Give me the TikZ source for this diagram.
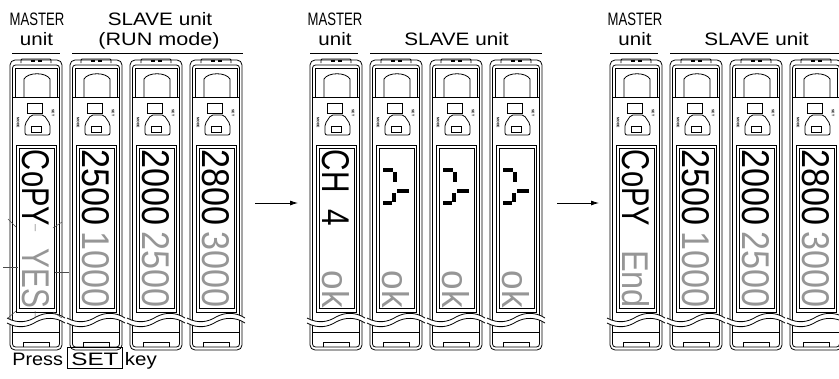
\documentclass[tikz,border=0pt]{standalone}
\usepackage{graphicx}
\usepackage{fontspec}
\setmainfont{Liberation Sans}
\newfontfamily\segfont{Liberation Sans}
\usepackage{xcolor}
\usetikzlibrary{positioning,arrows.meta}
\definecolor{svgray}{RGB}{150,150,150}
\newcommand\segtxt[1]{\resizebox{76pt}{27pt}{\segfont #1}}

\begin{document}
\begin{tikzpicture}[x=1pt,y=-1pt,
      line width=0.8pt,
      lbl/.style={font=\fontsize{18}{20}\selectfont, inner sep=0pt, anchor=base},
      pv/.style={rotate=-90, inner sep=0pt},
      sv/.style={rotate=-90, inner sep=0pt, text=svgray},
      tinylbl/.style={rotate=-90, inner sep=0pt, font=\fontsize{3.5}{4}\selectfont\bfseries},
      blinkmark/.style={line width=0.5pt, black!70},
      busyseg/.style={line width=3.5pt, line cap=butt},
      ampunit/.pic={
        \draw[rounded corners=5pt] (0,60) rectangle (52,350);
        \draw[rounded corners=3pt] (2.5,65) rectangle (49.5,347);
        \draw[rounded corners=1pt] (11,63) -- (11,59) -- (41,59) -- (41,63);
        \draw[line width=1.2pt] (21,61) -- (25,61) (28,61) -- (32,61);
        \draw (5,97) -- (5,68) -- (47,68) -- (47,97);
        \draw (14,97) -- (14,79) .. controls (18,72) and (36,72) .. (40,79) -- (40,97);
        \draw (2.5,97) -- (49.5,97);
        \draw (17,103) rectangle (32,113);
        \draw[rounded corners=2pt] (15,135) -- (15,124) -- (21,115) -- (34,115) -- (40,124) -- (40,135) -- cycle;
        \draw (21.5,126) rectangle (31.5,132);
        \node[tinylbl] (mode) at (8,123) {MODE};
        \node[tinylbl] (set) at (43,113) {SET};
        \draw (6.5,145) rectangle (46.5,312);
        \draw (9,148) rectangle (44,308);
        \fill[white] (-3,318) .. controls (8,324) and (18,322) .. (26,317) .. controls (35,312) and (46,312) .. (55,318)
          -- (55,323) .. controls (46,317) and (35,317) .. (26,322) .. controls (18,327) and (8,329) .. (-3,323) -- cycle;
        \draw (-3,318) .. controls (8,324) and (18,322) .. (26,317) .. controls (35,312) and (46,312) .. (55,318);
        \draw (-3,323) .. controls (8,329) and (18,327) .. (26,322) .. controls (35,317) and (46,317) .. (55,323);
        \draw (2.5,332) -- (49.5,332);
        \draw (13,347) -- (13,342.5) -- (39,342.5) -- (39,347);
      }]
    \useasboundingbox (0,0) rectangle (839,378);
    \clip (0,0) rectangle (839,378);
    \foreach \x in {10,70,130,190,310,370,430,490,610,670,730,790}
      \pic (u\x) at (\x,0) {ampunit};

    \node[lbl, xscale=.73] (m1lbl) at (37,25) {MASTER};
    \node[lbl, xscale=1.14] (m1unit) at (36.5,45) {unit};
    \node[lbl, xscale=1.15] (s1lbl) at (160,25) {SLAVE unit};
    \node[lbl, xscale=1.2] (s1mode) at (159,45) {(RUN mode)};
    \node[lbl, xscale=.73] (m2lbl) at (335,25) {MASTER};
    \node[lbl, xscale=1.14] (m2unit) at (335,45) {unit};
    \node[lbl, xscale=1.15] (s2lbl) at (456.5,45) {SLAVE unit};
    \node[lbl, xscale=.73] (m3lbl) at (635,25) {MASTER};
    \node[lbl, xscale=1.14] (m3unit) at (635,45) {unit};
    \node[lbl, xscale=1.15] (s3lbl) at (756.5,45) {SLAVE unit};
    \draw (12,53) -- (60,53) (72,53) -- (243,53);
    \draw (310,53) -- (358,53) (370,53) -- (542,53);
    \draw (610,53) -- (658,53) (670,53) -- (842,53);

    \node[pv] (p1pv0) at (36,188) {\segtxt{CoPY}};
    \node[sv] (p1sv0) at (36,270) {\segtxt{\phantom{0}YES}};
    \foreach \v/\w [count=\i] in {2500/1000,2000/2500,2800/3000} {
      \node[pv] (p1pv\i) at (36+60*\i,188) {\segtxt{\v}};
      \node[sv] (p1sv\i) at (36+60*\i,270) {\segtxt{\w}};
    }
    \node[pv] (p2pv0) at (336,188) {\segtxt{CH\phantom{0}4}};
    \foreach \x [count=\i from 0] in {336,396,456,516}
      \node[sv] (p2sv\i) at (\x,270) {\segtxt{\phantom{00}ok}};
    \foreach \x in {370,430,490} {
      \draw[busyseg] (\x+13,170) -- (\x+23,170) (\x+25,172) -- (\x+25,182);
      \draw[busyseg] (\x+39,191) -- (\x+27,191) (\x+24,193) -- (\x+24,202) (\x+22,203) -- (\x+13,203);
    }
    \node[pv] (p3pv0) at (636,188) {\segtxt{CoPY}};
    \node[sv] (p3sv0) at (636,270) {\segtxt{\phantom{0}End}};
    \foreach \v/\w [count=\i] in {2500/1000,2000/2500,2800/3000} {
      \node[pv] (p3pv\i) at (636+60*\i,188) {\segtxt{\v}};
      \node[sv] (p3sv\i) at (636+60*\i,270) {\segtxt{\w}};
    }

    \draw[blinkmark] (8,219) -- (16,227) (35,224) -- (35,231) (53,228) -- (62,222);
    \draw[blinkmark] (3,267) -- (18,267) (55,272) -- (69,272);
    \draw[blinkmark] (8,318) -- (16,311) (35,311) -- (35,318) (53,312) -- (62,318);

    \coordinate (a1s) at (255,203);
    \coordinate (a1e) at (298,203);
    \coordinate (a2s) at (557,203);
    \coordinate (a2e) at (599,203);
    \draw[-{Latex[length=8pt,width=5pt]}] (a1s) -- (a1e);
    \draw[-{Latex[length=8pt,width=5pt]}] (a2s) -- (a2e);

    \node[lbl, anchor=base west] (press) at (12,365) {\scalebox{1.1}[1]{Press}};
    \node[lbl, draw, text height=18pt, text depth=3pt, inner xsep=3.5pt, base right=4pt of press] (setkey) {\scalebox{1.35}[1]{SET}};
    \node[lbl, base right=2pt of setkey] (key) {\scalebox{1.14}[1]{key}};
\end{tikzpicture}
\end{document}
